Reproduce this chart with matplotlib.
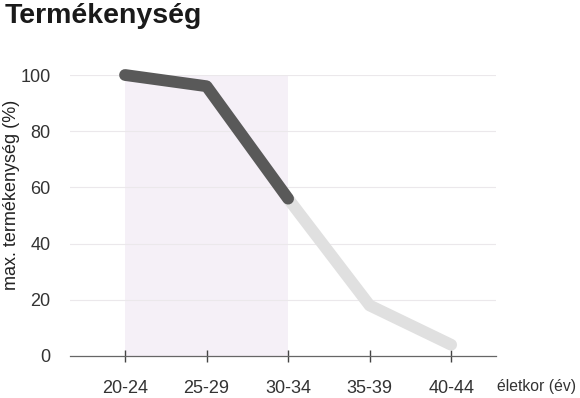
import matplotlib
matplotlib.use("Agg")
import matplotlib.pyplot as plt

plt.rcParams['font.family'] = ['Liberation Sans', 'DejaVu Sans']

categories = ["20-24", "25-29", "30-34", "35-39", "40-44"]
fertility = [100, 96, 56, 18, 4]
yticks = [0, 20, 40, 60, 80, 100]
highlight_start, highlight_end = "20-24", "30-34"
split_at = "30-34"

fig = plt.figure(figsize=(5.8, 3.98), dpi=100)
ax = fig.add_axes([70/580, 1 - 356/398, (496-70)/580, (356-75)/398])

x = list(range(len(categories)))
s = categories.index(split_at)

ax.set_xlim(-0.675, 4.55)
ax.set_ylim(0, 100)

ax.axvspan(categories.index(highlight_start), categories.index(highlight_end),
           color="#f5f0f7", zorder=0, lw=0)
for yt in yticks[1:]:
    ax.axhline(yt, color="#ebe8eb", lw=0.8, zorder=1)

ax.plot(x[s:], fertility[s:], color="#e0e0e0", lw=8.5, solid_capstyle="round",
        solid_joinstyle="round", zorder=2, clip_on=False)
ax.plot(x[:s+1], fertility[:s+1], color="#595959", lw=8.5, solid_capstyle="round",
        solid_joinstyle="round", zorder=3, clip_on=False)

for sp in ["top", "right", "left"]:
    ax.spines[sp].set_visible(False)
ax.spines["bottom"].set_color("#666666")
ax.spines["bottom"].set_linewidth(0.9)

ax.set_xticks(x)
ax.set_xticklabels(categories)
ax.set_yticks(yticks)
ax.tick_params(axis="x", direction="inout", length=8, width=1, color="#444444",
               labelsize=13, labelcolor="#333333", pad=13)
ax.tick_params(axis="y", length=0, labelsize=13, labelcolor="#333333", pad=14)

fig.text(12/580, 1 - 195/398, "max. termékenység (%)", fontsize=13, color="#222222",
         rotation=90, ha="center", va="center")
fig.text(497/580, 1 - 386/398, "életkor (év)", fontsize=11.3, color="#333333",
         ha="left", va="center")
fig.text(5/580, 1 - 16/398, "Termékenység", fontsize=20.5, fontweight="bold",
         color="#1a1a1a", ha="left", va="center")

fig.savefig("out.png", dpi=100)
